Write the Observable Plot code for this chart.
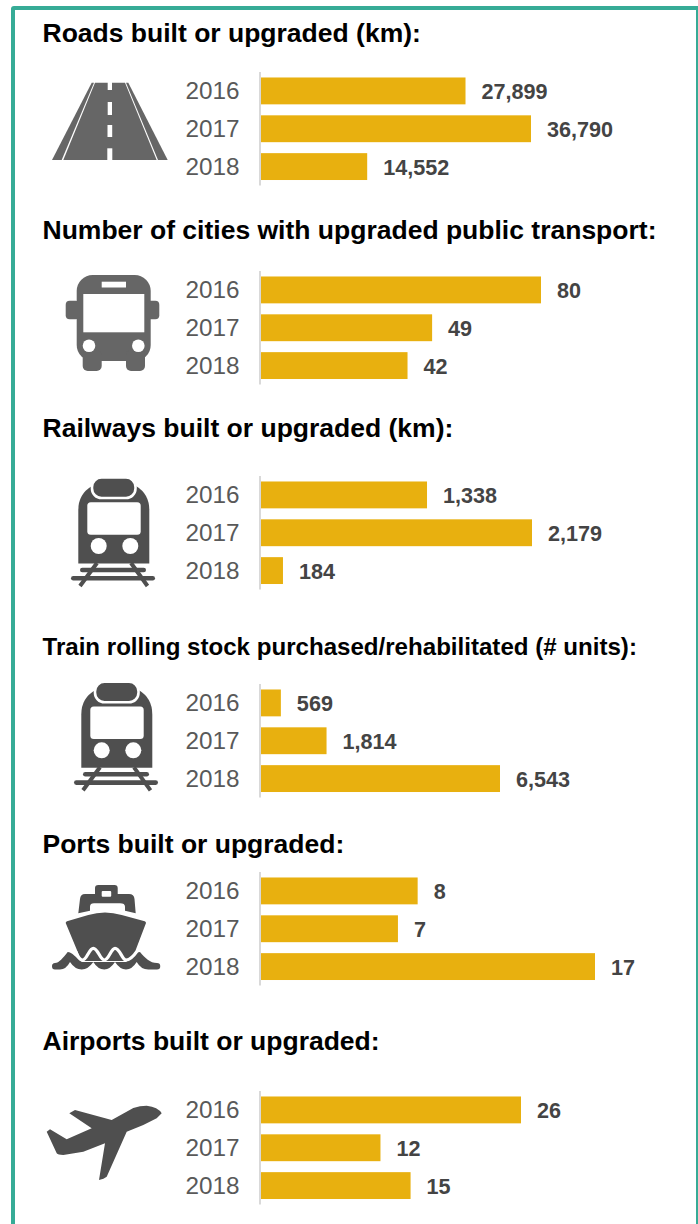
<!DOCTYPE html>
<html><head><meta charset="utf-8">
<script src="https://cdn.jsdelivr.net/npm/d3@7"></script>
<script src="https://cdn.jsdelivr.net/npm/@observablehq/plot@0.6"></script>
<style>
html,body{margin:0;padding:0;background:#fff}
#page{position:relative;width:698px;height:1224px;overflow:hidden;font-family:"Liberation Sans",Arial,sans-serif}
#frame{position:absolute;left:11px;top:5.5px;width:688.5px;height:1240px;border:4.6px solid #36AB96;border-radius:3px;box-sizing:border-box}
.t{position:absolute;left:42.5px;font-weight:700;color:#000;white-space:nowrap;line-height:1}
.p{position:absolute;left:0}
.p svg{display:block;background:transparent}
#icons{position:absolute;left:0;top:0}
</style></head><body>
<div id="page"><div id="frame"></div>
<svg id="icons" width="698" height="1224" viewBox="0 0 698 1224">
<g fill="#666">
<path d="M63.3 160H156.7L125 82.7H95Z"/><path d="M52 160H61.7L94 82.7H91.7Z"/><path d="M158 160H167.7L128.3 82.7H126Z"/>
<g fill="#fff"><rect x="107.7" y="82" width="4.3" height="8"/><rect x="107.7" y="102" width="4.3" height="13"/><rect x="107.5" y="125" width="4.7" height="12"/><rect x="107.3" y="148.3" width="5" height="12"/></g>
</g>
<g fill="#666">
<rect x="76.7" y="275" width="74" height="86" rx="16"/>
<rect x="82.7" y="350" width="19" height="21" rx="5"/><rect x="126" y="350" width="19" height="21" rx="5"/>
<rect x="65.7" y="300.7" width="14" height="18.6" rx="4"/><rect x="145.3" y="300.7" width="14" height="18.6" rx="4"/>
<g fill="#fff"><rect x="83.3" y="294" width="61" height="38.3"/><rect x="101.7" y="281.7" width="24.3" height="5.8"/><circle cx="89" cy="345.7" r="6.3"/><circle cx="138.3" cy="345.7" r="6.3"/></g>
</g>
<defs><g id="train">
<path fill="#4f4f4f" d="M78.3 563.5V510Q78.3 494 92 486H136Q149.3 494 149.3 510V563.5Z"/>
<rect x="92" y="477.5" width="43.5" height="20.5" rx="9.5" fill="#4f4f4f" stroke="#fff" stroke-width="2.6"/>
<rect x="87.3" y="502.3" width="53.4" height="32.4" rx="3.5" fill="#fff"/>
<circle cx="98.7" cy="546" r="8" fill="#fff"/><circle cx="130.3" cy="546" r="8" fill="#fff"/>
<rect x="80" y="567.7" width="66" height="4.6" rx="2.3" fill="#4f4f4f"/><rect x="71" y="576" width="84" height="4.6" rx="2.3" fill="#4f4f4f"/>
<path d="M97 563L80 586M131 563L147.5 586" stroke="#4f4f4f" stroke-width="4" fill="none"/>
</g></defs>
<use href="#train"/><use href="#train" transform="translate(3,204.3)"/>
<g fill="#4f4f4f">
<path d="M78.3 913.3L80 899Q80.5 894 85 894H95V888Q95 885 98.3 885H114.5Q117.7 885 117.7 888V894H129Q134 894 134.5 899L135.7 913.3L125 910.7V906.7Q125 903.3 120 903.3H94Q90 903.3 90 906.7V910.7Z"/>
<rect x="101.7" y="891" width="9.5" height="5.7" rx="1" fill="#fff"/>
<path d="M65.7 923Q65.7 921.7 67 921.3L88.3 915Q105 910 121.7 915L144.7 921.3Q146 921.7 146 923L131.5 961H81.5Z"/>
<path d="M52 966.2A3.2 3.2 0 0 1 55 963C59 963 63 958 67.7 952C72 952 76 958 82 962H126C132 958 136 952 140 952C145 958 150 963 157 963A3.2 3.2 0 0 1 157 969.5H148.3Q141 969.5 136.7 962Q132 969.5 126 969.5Q120 969.5 115 962Q110 969.5 104.3 969.5Q98 969.5 93.3 962Q88 969.5 81.7 969.5Q75 969.5 70 962Q66 969.5 60 969.5H55A3.2 3.2 0 0 1 52 966.2Z"/>
</g>
<path d="M75.7 951.7Q79 960 82.3 960C87 960 89 948.3 93.3 948.3C98 948.3 100 960 104.3 960C109 960 111 948.3 115 948.3C120 948.3 122 960 126 960Q131 960 136.7 951.7" fill="none" stroke="#fff" stroke-width="3.2"/>
<path fill="#4f4f4f" d="M161.7 1113.3Q158 1107 146.7 1105.7Q140 1105.7 133.3 1108L111.7 1120L75 1110L69.3 1113.3L91.7 1128.3L66.7 1139.3L50 1129.3L46.7 1131.7L56.7 1153.3Q58 1155 63.3 1155L83.3 1151.7L105 1143.3L99 1180Q104 1179 106.7 1176.7L126.7 1131.7L143.3 1125L156.7 1118.3Z"/>
</svg>
</div>
<script>
const years = ["2016","2017","2018"];
const titles = ["Roads built or upgraded (km):","Number of cities with upgraded public transport:","Railways built or upgraded (km):","Train rolling stock purchased/rehabilitated (# units):","Ports built or upgraded:","Airports built or upgraded:"];
const roads = [27899,36790,14552];
const cities = [80,49,42];
const railways = [1338,2179,184];
const rollingStock = [569,1814,6543];
const ports = [8,7,17];
const airports = [26,12,15];
const series = [roads,cities,railways,rollingStock,ports,airports];
const titleTops = [19.5,217,415,635,831,1027.5];
const titleSizes = [26.5,26.5,26.5,24.1,26.5,26.5];
const panelTops = [72,271,476,684,871.5,1091];
const panelEnds = [531,541,532,500,595,521];
const panelHeight = 113.5, panelLeft = 260;
const fmt = d3.format(",");
const page = document.getElementById("page");
series.forEach((vals,i)=>{
  const t = document.createElement("div"); t.className="t"; t.textContent=titles[i];
  t.style.top=titleTops[i]+"px"; t.style.fontSize=titleSizes[i]+"px"; page.appendChild(t);
  const rows = years.map((y,j)=>({year:y,value:vals[j]}));
  const plot = Plot.plot({
    width:698,height:panelHeight,marginLeft:panelLeft,marginRight:698-panelEnds[i],marginTop:0,marginBottom:0,
    style:{background:"transparent",fontFamily:'"Liberation Sans",Arial,sans-serif',overflow:"visible"},
    x:{domain:[0,d3.max(vals)],axis:null},
    y:{domain:years,round:false,paddingInner:0.29,paddingOuter:0.145,axis:null},
    marks:[
      Plot.barX(rows,{x:"value",y:"year",fill:"#E8B00F"}),
      Plot.ruleX([0],{stroke:"#d9d9d9",strokeWidth:2,dx:-0.5}),
      Plot.axisY({anchor:"left",tickSize:0,tickPadding:21,label:null,fontSize:24.3,fill:"#595959"}),
      Plot.text(rows,{x:"value",y:"year",text:d=>fmt(d.value),dx:15.5,dy:1,textAnchor:"start",fill:"#444",fontSize:21.6,fontWeight:700})
    ]
  });
  const wrap=document.createElement("div"); wrap.className="p"; wrap.style.top=panelTops[i]+"px"; wrap.appendChild(plot); page.appendChild(wrap);
});
</script></body></html>
